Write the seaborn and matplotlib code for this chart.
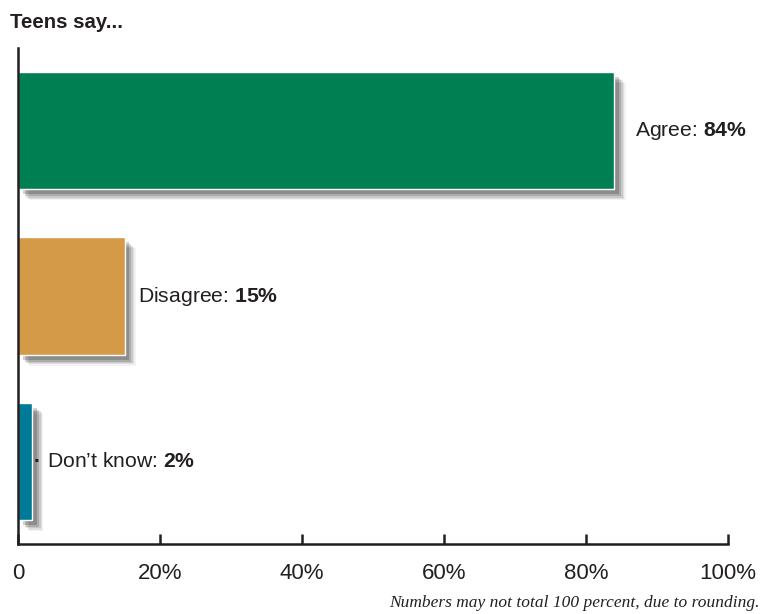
import matplotlib
matplotlib.use("Agg")
import matplotlib.pyplot as plt
import matplotlib.patheffects as pe
import seaborn as sns
import pandas as pd

categories = ["Agree", "Disagree", "Don\u2019t know"]
values = [84, 15, 2]
xticks = [0, 20, 40, 60, 80, 100]
xtick_labels = ["0", "20%", "40%", "60%", "80%", "100%"]
colors = ["#008052", "#D49A48", "#007A96"]
title = "Teens say..."
footnote = "Numbers may not total 100 percent, due to rounding."

sns.set_style("white")
plt.rcParams["font.family"] = ["Liberation Sans", "DejaVu Sans"]
plt.rcParams["mathtext.fontset"] = "custom"
plt.rcParams["mathtext.rm"] = "Liberation Sans"
plt.rcParams["mathtext.bf"] = "Liberation Sans:bold"

df = pd.DataFrame({"cat": categories, "val": values})

fig = plt.figure(figsize=(7.62, 6.14), dpi=100)
ax = fig.add_axes([18 / 762, 70 / 614, 710 / 762, 496 / 614])

sns.barplot(data=df, x="val", y="cat", hue="cat", palette=colors, legend=False,
            width=0.71, ax=ax, orient="h", edgecolor="white", linewidth=1,
            saturation=1)

shadow = [
    pe.SimplePatchShadow(offset=(8, -8), shadow_rgbFace="black", alpha=0.05),
    pe.SimplePatchShadow(offset=(7, -7), shadow_rgbFace="black", alpha=0.08),
    pe.SimplePatchShadow(offset=(6, -6), shadow_rgbFace="black", alpha=0.1),
    pe.SimplePatchShadow(offset=(5, -5), shadow_rgbFace="black", alpha=0.14),
    pe.SimplePatchShadow(offset=(3.5, -3.5), shadow_rgbFace="black", alpha=0.18),
    pe.Normal(),
]
for p in ax.patches:
    p.set_path_effects(shadow)

offsets = [15, 10, 11]
for i, (c, v) in enumerate(zip(categories, values)):
    ax.annotate(f"{c}: $\\mathbf{{{v}\\%}}$", xy=(v, i), xytext=(offsets[i], 0),
                textcoords="offset points", va="center", ha="left",
                fontsize=15.2, color="#231f20")
    if v < 5:
        ax.annotate("\u00b7", xy=(v, i), xytext=(0.8, 0), textcoords="offset points",
                    va="center", ha="left", fontsize=15, color="#231f20",
                    fontweight="bold")

ax.set_xlim(0, 100)
ax.set_ylim(2.5, -0.5)
ax.set_xticks(xticks)
ax.set_xticklabels(xtick_labels)
ax.set_yticks([])
ax.set_xlabel("")
ax.set_ylabel("")
for s in ["top", "right"]:
    ax.spines[s].set_visible(False)
for s in ["left", "bottom"]:
    ax.spines[s].set_linewidth(1.8)
    ax.spines[s].set_color("#231f20")
ax.tick_params(axis="x", bottom=True, direction="in", length=7, width=1.8,
               color="#231f20", labelsize=16, pad=14, labelcolor="#231f20")

fig.text(10 / 762, 1 - 22 / 614, title, fontsize=14.7, fontweight="bold",
         va="center", ha="left", color="#231f20")
fig.text(760 / 762, 1 - 603 / 614, footnote, fontsize=12.5, style="italic",
         family=["Liberation Serif", "DejaVu Serif"], va="center", ha="right",
         color="#231f20")

fig.savefig("out.png", dpi=100)
